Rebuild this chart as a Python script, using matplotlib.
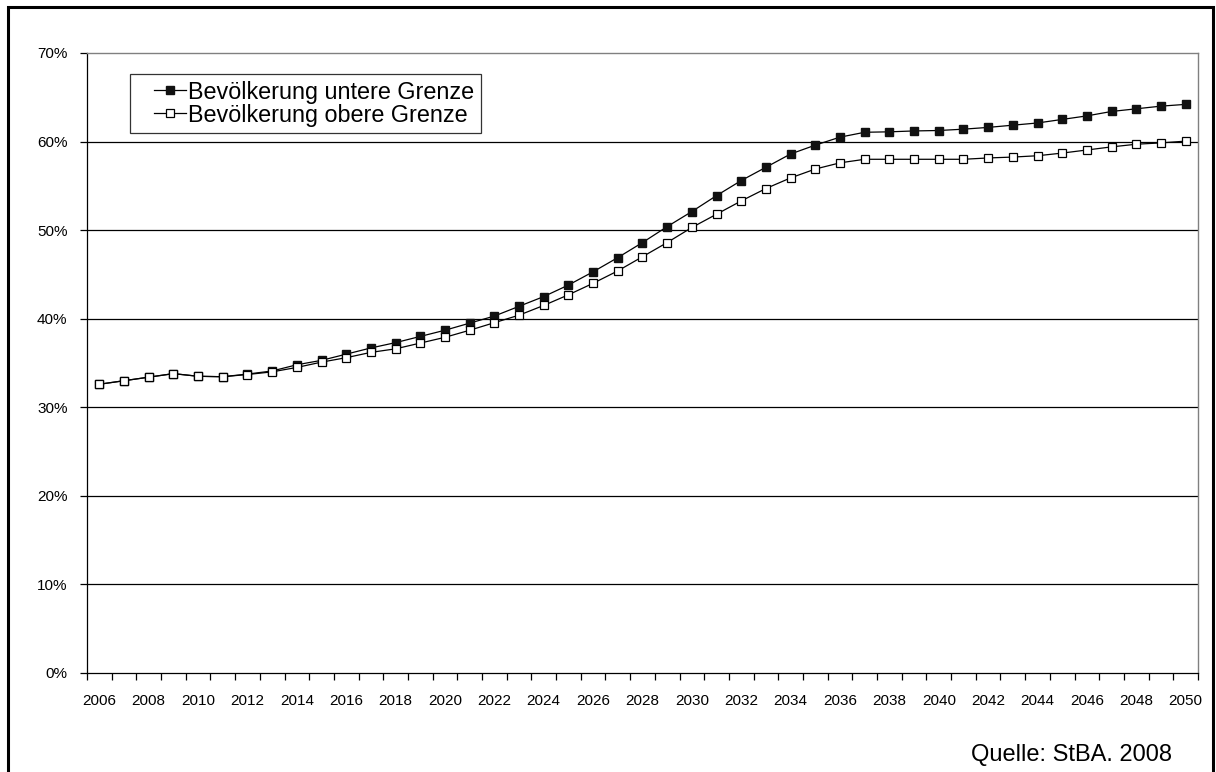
import matplotlib.pyplot as plt
from matplotlib.patches import Rectangle
from matplotlib.legend_handler import HandlerLine2D

plt.rcParams['font.family'] = ['Liberation Sans', 'DejaVu Sans']

# Jahre und Anteile in Prozent
jahre = list(range(2006, 2051))
untere_grenze = [32.6, 33.0, 33.4, 33.8, 33.5, 33.45, 33.75, 34.1, 34.8, 35.3,
                 36.0, 36.7, 37.3, 38.0, 38.7, 39.5, 40.3, 41.4, 42.5, 43.8,
                 45.3, 46.9, 48.6, 50.4, 52.1, 53.9, 55.6, 57.1, 58.6, 59.6,
                 60.5, 61.05, 61.1, 61.2, 61.25, 61.4, 61.6, 61.85, 62.1, 62.5,
                 62.9, 63.4, 63.7, 64.0, 64.2]
obere_grenze = [32.6, 33.0, 33.4, 33.8, 33.5, 33.45, 33.7, 34.0, 34.5, 35.1,
                35.6, 36.2, 36.6, 37.25, 37.9, 38.7, 39.55, 40.4, 41.5, 42.7,
                44.0, 45.4, 47.0, 48.6, 50.3, 51.8, 53.3, 54.7, 55.9, 56.9,
                57.6, 58.0, 58.0, 58.0, 58.0, 58.0, 58.15, 58.25, 58.4, 58.7,
                59.05, 59.4, 59.7, 59.85, 60.05]
y_ticks = [0, 10, 20, 30, 40, 50, 60, 70]

fig = plt.figure(figsize=(12.16, 7.72), dpi=100)
ax = fig.add_axes([87 / 1216, 99 / 772, 1111 / 1216, 620 / 772])

ax.plot(jahre, untere_grenze, color='black', lw=0.9, marker='s', ms=6.2,
        mfc='#111111', mec='#111111', label='Bevölkerung untere Grenze', zorder=3)
ax.plot(jahre, obere_grenze, color='black', lw=0.9, marker='s', ms=6.2,
        mfc='white', mec='black', mew=0.9, label='Bevölkerung obere Grenze', zorder=4)

ax.set_xlim(2005.5, 2050.5)
ax.set_ylim(0, 70)

# Striche zwischen den Jahren, Beschriftung jedes zweite Jahr
ax.set_xticks([j - 0.5 for j in jahre] + [2050.5])
ax.set_xticklabels([])
ax.set_xticks(jahre[::2], minor=True)
ax.set_xticklabels([str(j) for j in jahre[::2]], minor=True, fontsize=11)
ax.tick_params(axis='x', which='major', direction='out', length=5, width=0.9)
ax.tick_params(axis='x', which='minor', length=0, pad=15)

ax.set_yticks(y_ticks)
ax.set_yticklabels([f'{v}%' for v in y_ticks], fontsize=11)
ax.tick_params(axis='y', direction='out', length=5, width=0.9, pad=9)

for v in y_ticks[1:-1]:
    ax.axhline(v, color='black', lw=0.9, zorder=1)

ax.spines['left'].set_linewidth(0.9)
ax.spines['bottom'].set_linewidth(0.9)
ax.spines['top'].set_color('#808080')
ax.spines['right'].set_color('#808080')
ax.spines['top'].set_linewidth(1.0)
ax.spines['right'].set_linewidth(1.0)

# Legende mit eingerückten Symbolen
leg = ax.legend(loc='upper left', bbox_to_anchor=(0.0387, 0.966), fontsize=16.8,
                frameon=True, fancybox=False, edgecolor='black', handlelength=2.1,
                handletextpad=0.12, labelspacing=0.0, borderpad=0.28,
                borderaxespad=0, markerscale=0.95,
                handler_map={plt.Line2D: HandlerLine2D(xpad=0.75)})
leg.get_frame().set_linewidth(0.9)

fig.text(1172 / 1216, 17 / 772, 'Quelle: StBA. 2008', fontsize=17,
         ha='right', va='center')

# Rahmen um die ganze Grafik
fig.patches.append(Rectangle((8 / 1216, -0.05), 1205 / 1216, 0.05 + 765 / 772,
                             transform=fig.transFigure, fill=False,
                             edgecolor='black', lw=2.2))

fig.savefig('out.png', dpi=100)
